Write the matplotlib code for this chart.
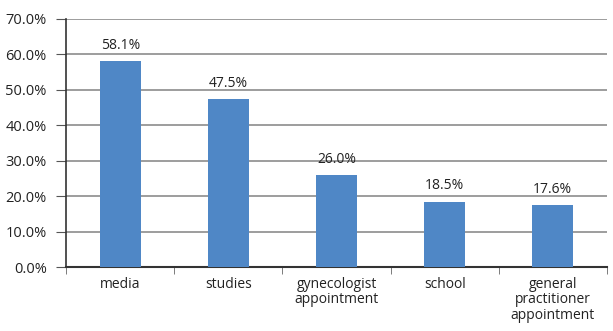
import matplotlib
matplotlib.use("Agg")
import matplotlib.pyplot as plt
from matplotlib.ticker import FuncFormatter

plt.rcParams['font.family'] = ['Open Sans', 'DejaVu Sans']

categories = ['media', 'studies', 'gynecologist\nappointment', 'school',
              'general\npractitioner\nappointment']
values = [58.1, 47.5, 26.0, 18.5, 17.6]
labels = ['58.1%', '47.5%', '26.0%', '18.5%', '17.6%']

fig = plt.figure(figsize=(6.13, 3.31), dpi=100)
ax = fig.add_axes([0.108, 0.193, 0.882, 0.75])

x = range(len(categories))
ax.bar(x, values, width=0.38, color='#4f87c6', zorder=3)
for xi, v, lab in zip(x, values, labels):
    ax.text(xi, v + 2.3, lab, ha='center', va='bottom', fontsize=10, color='#222222')

ax.set_ylim(0, 70)
ax.set_xlim(-0.5, len(categories) - 0.5)
ax.set_yticks(range(0, 71, 10))
ax.yaxis.set_major_formatter(FuncFormatter(lambda v, p: f'{v:.1f}%'))
ax.grid(axis='y', color='#8c8c8c', linewidth=1.2, zorder=0)

ax.set_xticks(list(x))
ax.set_xticklabels(categories, fontsize=10, color='#222222', linespacing=1.05, va='top')
ax.set_xticks([i - 0.5 for i in range(len(categories) + 1)], minor=True)
ax.tick_params(axis='x', which='major', length=0, pad=7)
ax.tick_params(axis='x', which='minor', length=5, color='#666666', direction='out')
ax.tick_params(axis='y', length=7, color='#555555', labelsize=10.5, labelcolor='#222222', pad=7)

for s in ['top', 'right']:
    ax.spines[s].set_visible(False)
ax.spines['left'].set_color('#333333')
ax.spines['bottom'].set_color('#333333')
ax.spines['left'].set_linewidth(1.2)
ax.spines['bottom'].set_linewidth(1.5)

fig.savefig('out.png', dpi=100)
